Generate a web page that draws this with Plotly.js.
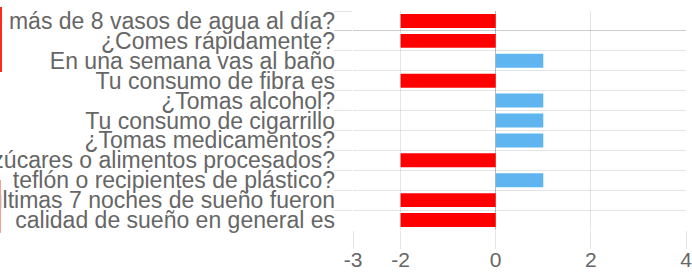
<!DOCTYPE html>
<html>
<head>
<meta charset="utf-8">
<script src="https://cdn.plot.ly/plotly-3.0.1.min.js"></script>
<style>
  html, body { margin: 0; padding: 0; background: #fff; }
  #wrap { position: relative; width: 692px; height: 277px; overflow: hidden; }
  #chart { width: 692px; height: 277px; }
  .edge1 { position: absolute; left: 0; top: 7px; width: 2px; height: 65px; background: #ff2a1a; }
  .edge2 { position: absolute; left: 0; top: 180px; width: 1px; height: 53px; background: #f8a090; }
</style>
</head>
<body>
<div id="wrap">
  <div id="chart"></div>
  <div class="edge1"></div>
  <div class="edge2"></div>
</div>
<script>
const categories = [
  "más de 8 vasos de agua al día?",
  "¿Comes rápidamente?",
  "En una semana vas al baño",
  "Tu consumo de fibra es",
  "¿Tomas alcohol?",
  "Tu consumo de cigarrillo",
  "¿Tomas medicamentos?",
  "azúcares o alimentos procesados?",
  "teflón o recipientes de plástico?",
  "últimas 7 noches de sueño fueron",
  "calidad de sueño en general es"
];
const values = [-2, -2, 1, -2, 1, 1, 1, -2, 1, -2, -2];
const xTicks = [-3, -2, 0, 2, 4];

const colors = values.map(v => v < 0 ? "#ff0000" : "rgba(54,162,235,0.8)");

const trace = {
  type: "bar",
  orientation: "h",
  y: categories,
  x: values,
  width: 0.7,
  marker: { color: colors, line: { width: 0 } },
  hoverinfo: "none"
};

const yFont = { family: "Liberation Sans, Arial, Helvetica, sans-serif", size: 23, color: "#666" };
const xFont = { family: "Liberation Sans, Arial, Helvetica, sans-serif", size: 21, color: "#666" };

const layout = {
  width: 692, height: 277,
  margin: { l: 353, r: 6, t: 11, b: 47, pad: 0 },
  paper_bgcolor: "#fff", plot_bgcolor: "#fff",
  showlegend: false,
  font: yFont,
  xaxis: {
    range: [-3, 4],
    tickmode: "array",
    tickvals: xTicks,
    ticktext: xTicks.map(String),
    showgrid: true, gridcolor: "rgba(0,0,0,0.1)", gridwidth: 1,
    zeroline: true, zerolinecolor: "rgba(0,0,0,0.25)", zerolinewidth: 1,
    ticks: "outside", ticklen: 18, tickcolor: "rgba(0,0,0,0.1)", tickwidth: 1,
    tickfont: xFont,
    ticklabeloverflow: "allow",
    ticklabelstandoff: -7,
    showline: false,
    fixedrange: true
  },
  yaxis: {
    type: "category",
    autorange: "reversed",
    tickmode: "linear",
    tick0: 0,
    dtick: 1,
    tickson: "boundaries",
    zeroline: false,
    showgrid: true, gridcolor: "rgba(0,0,0,0.1)", gridwidth: 1,
    ticks: "outside", ticklen: 18, tickcolor: "rgba(0,0,0,0.1)", tickwidth: 1,
    tickfont: yFont,
    ticklabeloverflow: "allow",
    ticklabelstandoff: 17,
    showline: false,
    fixedrange: true
  }
};

Plotly.newPlot("chart", [trace], layout, { staticPlot: true, displayModeBar: false });
</script>
</body>
</html>
